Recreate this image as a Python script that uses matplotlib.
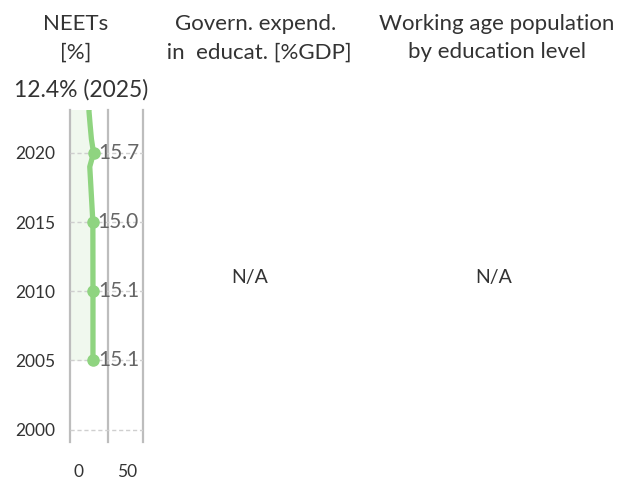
import matplotlib.pyplot as plt

plt.rcParams['font.family'] = ['Lato', 'DejaVu Sans']

# NEETs share [%] by year (markers / labels every 5 years)
years = [2005, 2010, 2015, 2019, 2020, 2021, 2022, 2023, 2024, 2025]
neets = [15.1, 15.1, 15.0, 11.8, 15.7, 13.5, 12.2, 11.0, 11.8, 12.4]
label_years = [2005, 2010, 2015, 2020]
label_vals = [15.1, 15.1, 15.0, 15.7]
ytick_years = [2000, 2005, 2010, 2015, 2020]
xtick_vals = [0, 50]

titles = ["NEETs\n[%]", "Govern. expend.\n in  educat. [%GDP]",
          "Working age population\nby education level"]
latest = "12.4% (2025)"

green = '#8fd480'
txt = '#333333'
vgrey = '#bdbdbd'

fig = plt.figure(figsize=(6.29, 4.79), dpi=100)
ax = fig.add_axes([70/629, 1-442/479, 73/629, 332/479])

xmin, xmax = -8.5, 66.5
ax.set_xlim(xmin, xmax)
ax.set_ylim(1999.1, 2023.1)

for y in ytick_years:
    ax.axhline(y, color='#cfcfcf', lw=1, ls=(0, (3, 2)), zorder=2)
for xv in [xmin, 30.5, xmax]:
    ax.axvline(xv, color=vgrey, lw=1.6, zorder=1, clip_on=False)

ax.fill_betweenx(years, xmin, neets, color='#f0f8ee', zorder=0.5, lw=0)
ax.plot(neets, years, color=green, lw=3.8, solid_capstyle='round', zorder=3)
ax.plot(label_vals, label_years, 'o', color=green, ms=8, zorder=4)
for v, y in zip(label_vals, label_years):
    ax.text(v + 5, y, f"{v:.1f}", color='#666666', fontsize=15,
            va='center', ha='left', zorder=5)

for s in ax.spines.values():
    s.set_visible(False)
ax.set_yticks(ytick_years)
ax.set_yticklabels([str(y) for y in ytick_years], fontsize=12.5, color=txt)
ax.set_xticks(xtick_vals)
ax.set_xticklabels([str(v) for v in xtick_vals], fontsize=12.5, color=txt)
ax.tick_params(length=0, pad=10.5)
ax.tick_params(axis='x', pad=16)

fig.text(76/629, 1-38/479, titles[0], ha='center', va='center',
         fontsize=16, color=txt, linespacing=1.55)
fig.text(256/629, 1-38/479, titles[1], ha='center', va='center',
         fontsize=16, color=txt, linespacing=1.55)
fig.text(497/629, 1-38/479, titles[2], ha='center', va='center',
         fontsize=16, color=txt, linespacing=1.55)
fig.text(81/629, 1-90/479, latest, ha='center', va='center',
         fontsize=16.5, color=txt)
fig.text(250/629, 1-277/479, "N/A", ha='center', va='center',
         fontsize=14, color=txt)
fig.text(494/629, 1-277/479, "N/A", ha='center', va='center',
         fontsize=14, color=txt)

fig.savefig('out.png', dpi=100)
